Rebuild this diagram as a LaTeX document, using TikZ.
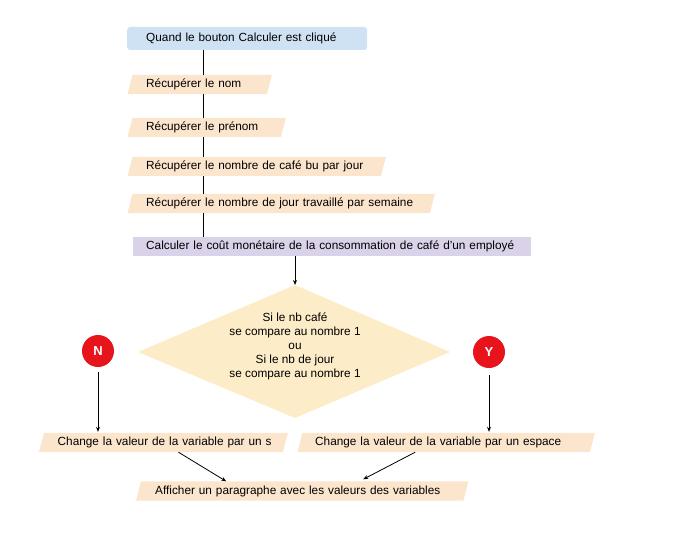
\documentclass[tikz,border=0pt]{standalone}
\usepackage{fontspec}
\setmainfont{Liberation Sans}
\usetikzlibrary{arrows.meta,backgrounds}
\definecolor{bluebox}{HTML}{CFE2F3}
\definecolor{purplebox}{HTML}{D9D2E9}
\definecolor{peach}{HTML}{FCE5CD}
\definecolor{diam}{HTML}{FDECC8}
\definecolor{redc}{HTML}{E8141B}
\tikzset{
  txt/.style={font=\fontsize{11.8}{14}\selectfont, text height=8.5pt, text depth=2.5pt, inner ysep=0pt, inner xsep=16pt, minimum height=19pt, align=left, anchor=west},
  para/.style={fill=peach},
  conn/.style={line width=0.8pt},
  arr/.style={line width=0.8pt, -{Stealth[length=5pt,width=4pt]}},
  circ/.style={circle, fill=redc, minimum size=32pt, inner sep=0pt, text=white, font=\fontsize{13}{15}\selectfont\bfseries}
}
\newcommand{\paral}[1]{\fill[para] ([xshift=-2.5pt]#1.south west) -- ([xshift=-2.5pt]#1.south east) -- ([xshift=2.5pt]#1.north east) -- ([xshift=2.5pt]#1.north west) -- cycle;}
\begin{document}
\begin{tikzpicture}[x=1pt,y=-1pt]
\useasboundingbox (0,0) rectangle (677,535);
\coordinate (vx) at (203,0);
% top box
\node[txt, inner xsep=19pt, text width=202pt, minimum height=23pt, fill=bluebox, rounded corners=3pt] (top) at (127,38.5) {\mbox{Quand le bouton Calculer est cliqué}};
\node[txt, text width=107pt] (n1) at (130,84.5) {\mbox{Récupérer le nom}};
\node[txt, text width=121pt] (n2) at (130,127.5) {\mbox{Récupérer le prénom}};
\node[txt, text width=221pt] (n3) at (130,166.5) {\mbox{Récupérer le nombre de café bu par jour}};
\node[txt, text width=270pt] (n4) at (130,203.5) {\mbox{Récupérer le nombre de jour travaillé par semaine}};
\node[txt, inner xsep=13pt, text width=372pt, fill=purplebox] (calc) at (133,246.5) {\mbox{Calculer le coût monétaire de la consommation de café d'un employé}};
% diamond
\coordinate (dtop) at (295,285);
\fill[diam] (dtop) -- (450,352) -- (295,418) -- (138,352) -- cycle;
\node[font=\fontsize{11.8}{14}\selectfont, align=center] (cond) at (295,346.5) {Si le nb café\\se compare au nombre 1\\ou\\Si le nb de jour\\se compare au nombre 1};
\node[circ] (N) at (98,351) {N};
\node[circ] (Y) at (489,352) {Y};
\node[txt, inner xsep=16pt, text width=211.5pt] (ns) at (41.5,442.5) {\mbox{Change la valeur de la variable par un s}};
\node[txt, inner xsep=15pt, text width=262pt] (es) at (300,442.5) {\mbox{Change la valeur de la variable par un espace}};
\node[txt, inner xsep=16.5pt, text width=294pt] (aff) at (138.5,491) {\mbox{Afficher un paragraphe avec les valeurs des variables}};
\begin{scope}[on background layer]
\paral{n1}\paral{n2}\paral{n3}\paral{n4}\paral{ns}\paral{es}\paral{aff}
\end{scope}
% connectors
\draw[conn] (top.south -| vx) -- (n1.north -| vx);
\draw[conn] (n1.south -| vx) -- (n2.north -| vx);
\draw[conn] (n2.south -| vx) -- (n3.north -| vx);
\draw[conn] (n3.south -| vx) -- (n4.north -| vx);
\draw[conn] (n4.south -| vx) -- (calc.north -| vx);
\draw[arr] (calc.south -| dtop) -- (dtop);
\draw[arr, shorten <=5pt, shorten >=1pt] (N.south) -- (N.south |- ns.north);
\draw[arr, shorten <=7pt, shorten >=1pt] (Y.south) -- (Y.south |- es.north);
\draw[arr] ([xshift=15pt]ns.south) -- ([xshift=-76pt]aff.north);
\draw[arr] ([xshift=-31pt]es.south) -- ([xshift=61pt,yshift=2pt]aff.north);
\end{tikzpicture}
\end{document}
